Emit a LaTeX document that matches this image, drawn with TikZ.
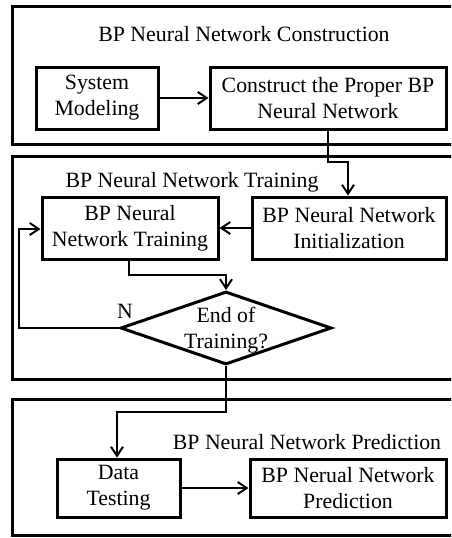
\documentclass[tikz,border=0pt]{standalone}
\usepackage{fontspec}
\setmainfont{Liberation Serif}
\usetikzlibrary{arrows.meta,shapes.geometric}
\tikzset{
  panel/.style={line width=3pt},
  box/.style={draw, line width=3pt, inner sep=0pt, align=center,
              font=\fontsize{21.8}{26}\selectfont},
  title/.style={inner sep=0pt, font=\fontsize{21.8}{26}\selectfont},
  flow/.style={line width=2pt, -{Straight Barb[length=9pt,width=12pt,line width=2pt]}},
  link/.style={line width=2pt},
}
\begin{document}
\begin{tikzpicture}[x=1pt,y=-1pt]
\clip (0,0) rectangle (451,538);
\fill[white] (0,0) rectangle (451,538);

% stage panels (they run past the right edge)
\draw[panel] (12.5,6.5) rectangle (470,144.5);
\draw[panel] (12.5,156) rectangle (470,379);
\draw[panel] (12.5,399) rectangle (470,535.5);

% construction stage
\node[title] (t1) at (244,34) {BP Neural Network Construction};
\node[box, minimum width=122pt, minimum height=62pt] (sys) at (97,98) {System\\Modeling};
\node[box, minimum width=236pt, minimum height=62pt] (cons) at (328,98) {Construct the Proper BP\\Neural Network};

% training stage
\node[title] (t2) at (192,182) {BP Neural Network Training};
\node[box, minimum width=176pt, minimum height=62pt] (train) at (130,228) {BP Neural\\Network Training};
\node[box, minimum width=194pt, minimum height=62pt] (init) at (349,228) {BP Neural Network\\Initialization};
\node[draw, diamond, line width=3pt, inner sep=0pt, aspect=2.9,
      minimum width=211pt, minimum height=73pt] (dec) at (226,328) {};
\node[title, align=center] (dectext) at (226,330) {End of\\Training?};
\node[title] (nlab) at (125,311) {N};

% prediction stage
\node[title] (t3) at (307,442) {BP Neural Network Prediction};
\node[box, minimum width=123pt, minimum height=58pt] (test) at (118.5,488) {Data\\Testing};
\node[box, minimum width=196pt, minimum height=58pt] (pred) at (348,488) {BP Nerual Network\\Prediction};

% connectors
\coordinate (c1) at (328,162);
\coordinate (c2) at (348,162);
\coordinate (c3) at (129,275);
\coordinate (c4) at (226,275);
\coordinate (c5) at (19,328);
\coordinate (c6) at (19,229);
\coordinate (c7) at (226,412);
\coordinate (c8) at (117,412);

\draw[flow] (sys.east) -- (cons.west);
\draw[flow] (cons.south) -- (c1) -- (c2) -- (c2 |- init.north);
\draw[flow] (init.west) -- (train.east);
\draw[flow] (c3 |- train.south) -- (c3) -- (c4) -- (dec.north);
\draw[flow] (dec.west) -- (c5) -- (c6) -- (c6 -| train.west);
\draw[flow] (dec.south) -- (c7) -- (c8) -- (c8 |- test.north);
\draw[flow] (test.east) -- (pred.west);
\end{tikzpicture}
\end{document}
